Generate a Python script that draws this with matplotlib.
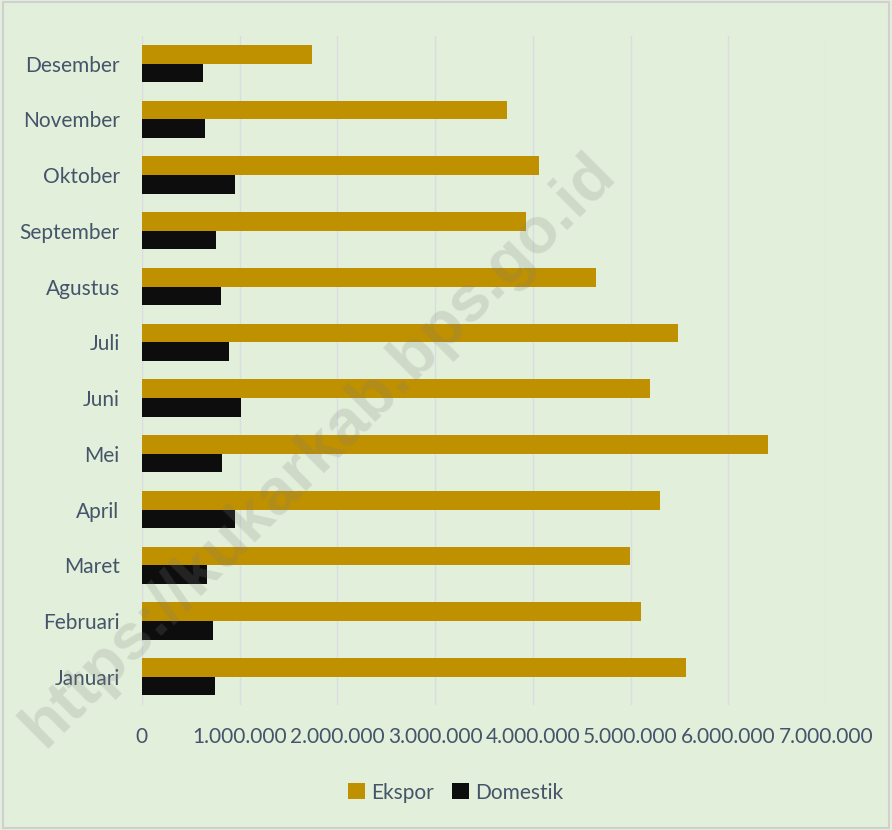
import matplotlib
matplotlib.use('Agg')
import matplotlib.pyplot as plt
import numpy as np
from matplotlib.ticker import FuncFormatter
from matplotlib.patches import Rectangle

plt.rcParams['font.family'] = ['Lato', 'DejaVu Sans']

# data (Januari .. Desember)
bulan = ['Januari', 'Februari', 'Maret', 'April', 'Mei', 'Juni',
         'Juli', 'Agustus', 'September', 'Oktober', 'November', 'Desember']
ekspor = [5570000, 5110000, 4995000, 5300000, 6410000, 5200000,
          5490000, 4650000, 3930000, 4060000, 3740000, 1737000]
domestik = [745000, 727000, 670000, 950000, 820000, 1015000,
            897000, 805000, 764000, 955000, 650000, 630000]

bg = '#E2EFDA'
txt = '#44546A'

fig = plt.figure(figsize=(8.92, 8.30), dpi=100, facecolor=bg)
ax = fig.add_axes([0.159, 0.151, 0.767, 0.806], facecolor=bg)

y = np.arange(len(bulan))
h = 0.333
ax.barh(y + h / 2, ekspor, height=h, color='#BF9000', label='Ekspor', zorder=2)
ax.barh(y - h / 2, domestik, height=h, color='#0D0D0D', label='Domestik', zorder=2)

ax.set_xlim(0, 7000000)
ax.set_ylim(-0.5, len(bulan) - 0.5)
ax.set_xticks(np.arange(0, 7000001, 1000000))
ax.xaxis.set_major_formatter(FuncFormatter(lambda v, p: f'{int(v):,}'.replace(',', '.')))
ax.set_yticks(y)
ax.set_yticklabels(bulan, va='center_baseline')

ax.grid(axis='x', color='#D9DCE3', linewidth=1.0, zorder=0)
for s in ax.spines.values():
    s.set_visible(False)
ax.tick_params(axis='both', length=0, labelsize=15, labelcolor=txt)
ax.tick_params(axis='y', pad=16)
ax.tick_params(axis='x', pad=16)

leg = fig.legend(loc='center', bbox_to_anchor=(0.511, 0.045), ncol=2, frameon=False,
                 fontsize=15, handlelength=0.8, handleheight=0.8,
                 handletextpad=0.3, columnspacing=0.9)
for t in leg.get_texts():
    t.set_color(txt)

# watermark
fig.text(0.357, 0.458, 'https://kukarkab.bps.go.id', rotation=45, fontsize=47,
         fontweight='bold', family=['Liberation Sans', 'DejaVu Sans'],
         color='gray', alpha=0.2, ha='center', va='center', zorder=10)

# border
fig.patches.append(Rectangle((0.003, 0.003), 0.994, 0.994, transform=fig.transFigure,
                             fill=False, edgecolor='#D0D0D0', linewidth=1.5))

fig.savefig('out.png', dpi=100, facecolor=bg)
